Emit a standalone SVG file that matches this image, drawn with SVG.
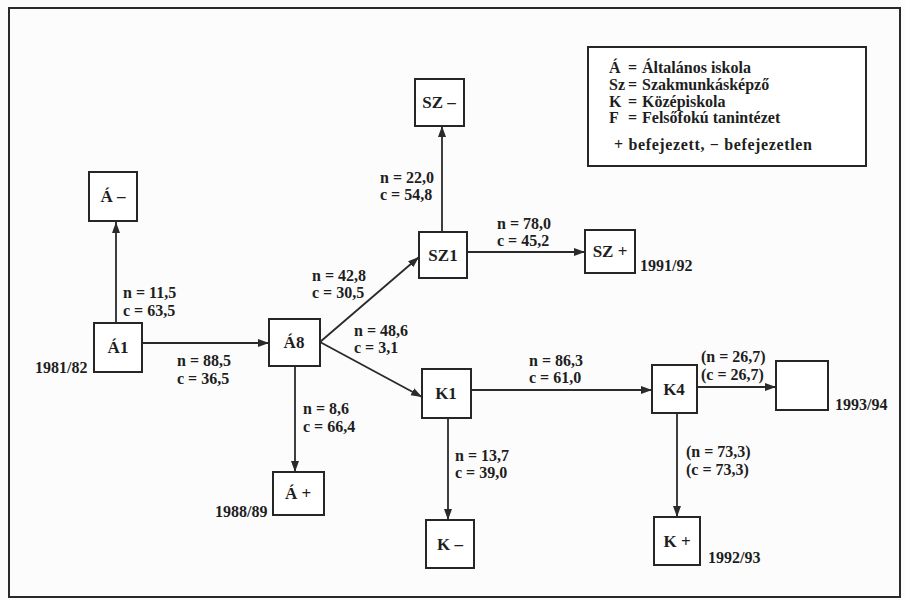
<svg xmlns="http://www.w3.org/2000/svg" width="905" height="600" viewBox="0 0 905 600">
<defs>
<marker id="ah" markerUnits="userSpaceOnUse" markerWidth="12" markerHeight="9" refX="11" refY="4" orient="auto">
<path d="M0,0 L11,4 L0,8 z" fill="#2a2a2a"/>
</marker>
<style>
.bg{fill:#fcfcfc}
.frame{fill:none;stroke:#2a2a2a;stroke-width:2}
.box{fill:#ffffff;stroke:#262626;stroke-width:2}
.edge{fill:none;stroke:#2a2a2a;stroke-width:1.8;marker-end:url(#ah)}
text{font-family:'Liberation Serif','Times New Roman',serif;font-weight:bold;fill:#1e1e1e}
.lbl{font-size:16px}
.nl{font-size:17px;text-anchor:middle}
.yr{font-size:16px}
.lg{font-size:16px}
</style>
</defs>
<rect class="bg" x="0" y="0" width="905" height="600"/>
<rect class="frame" x="9" y="8" width="891" height="589"/>

<g id="legend" font-family="Liberation Serif, serif">
<rect class="box" x="588" y="47" width="278" height="119"/>
<text class="lg" x="609" y="73">Á</text><text class="lg" x="628" y="73">=</text><text class="lg" x="642" y="73">Általános iskola</text>
<text class="lg" x="609" y="90">Sz</text><text class="lg" x="628" y="90">=</text><text class="lg" x="642" y="90">Szakmunkásképző</text>
<text class="lg" x="609" y="107">K</text><text class="lg" x="628" y="107">=</text><text class="lg" x="642" y="107">Középiskola</text>
<text class="lg" x="609" y="123">F</text><text class="lg" x="628" y="123">=</text><text class="lg" x="642" y="123">Felsőfokú tanintézet</text>
<text class="lg" x="614" y="150" textLength="198" lengthAdjust="spacing">+ befejezett, − befejezetlen</text>
</g>

<g id="connectors" font-family="Liberation Serif, serif">
<line class="edge" x1="116" y1="323" x2="116" y2="222"/>
<line class="edge" x1="142" y1="343" x2="269" y2="343"/>
<line class="edge" x1="295" y1="366" x2="295" y2="472"/>
<line class="edge" x1="320" y1="342" x2="419" y2="257"/>
<line class="edge" x1="320" y1="342" x2="422" y2="397"/>
<line class="edge" x1="442" y1="232" x2="442" y2="126"/>
<line class="edge" x1="467" y1="252" x2="585" y2="252"/>
<line class="edge" x1="448" y1="418" x2="448" y2="520"/>
<line class="edge" x1="471" y1="390" x2="652" y2="390"/>
<line class="edge" x1="697" y1="387" x2="776" y2="387"/>
<line class="edge" x1="677" y1="413" x2="677" y2="517"/>
<text class="lbl" x="123" y="298">n = 11,5</text><text class="lbl" x="123" y="316">c = 63,5</text>
<text class="lbl" x="177" y="366">n = 88,5</text><text class="lbl" x="177" y="384">c = 36,5</text>
<text class="lbl" x="303" y="414">n = 8,6</text><text class="lbl" x="303" y="432">c = 66,4</text>
<text class="lbl" x="312" y="281">n = 42,8</text><text class="lbl" x="312" y="298">c = 30,5</text>
<text class="lbl" x="354" y="336">n = 48,6</text><text class="lbl" x="354" y="353">c =  3,1</text>
<text class="lbl" x="380" y="183">n = 22,0</text><text class="lbl" x="380" y="200">c = 54,8</text>
<text class="lbl" x="497" y="229">n = 78,0</text><text class="lbl" x="497" y="246">c = 45,2</text>
<text class="lbl" x="455" y="461">n = 13,7</text><text class="lbl" x="455" y="478">c = 39,0</text>
<text class="lbl" x="529" y="366">n = 86,3</text><text class="lbl" x="529" y="383">c = 61,0</text>
<text class="lbl" x="701" y="362">(n = 26,7)</text><text class="lbl" x="701" y="380">(c = 26,7)</text>
<text class="lbl" x="686" y="457">(n = 73,3)</text><text class="lbl" x="686" y="475">(c = 73,3)</text>
</g>

<g id="node-A-minus"><rect class="box" x="89" y="172" width="48" height="49"/><text class="nl" x="113" y="202">Á –</text></g>
<g id="node-A1"><rect class="box" x="94" y="323" width="48" height="49"/><text class="nl" x="118" y="353">Á1</text><text class="yr" x="35" y="373">1981/82</text></g>
<g id="node-A8"><rect class="box" x="269" y="319" width="51" height="47"/><text class="nl" x="294" y="348">Á8</text></g>
<g id="node-A-plus"><rect class="box" x="273" y="472" width="51" height="43"/><text class="nl" x="298" y="499">Á +</text><text class="yr" x="215" y="517">1988/89</text></g>
<g id="node-SZ-minus"><rect class="box" x="415" y="79" width="49" height="47"/><text class="nl" x="439" y="108">SZ –</text></g>
<g id="node-SZ1"><rect class="box" x="419" y="232" width="48" height="46"/><text class="nl" x="443" y="261">SZ1</text></g>
<g id="node-SZ-plus"><rect class="box" x="585" y="230" width="50" height="43"/><text class="nl" x="610" y="257">SZ +</text><text class="yr" x="640" y="271">1991/92</text></g>
<g id="node-K1"><rect class="box" x="422" y="369" width="49" height="49"/><text class="nl" x="446" y="399">K1</text></g>
<g id="node-K-minus"><rect class="box" x="426" y="520" width="48" height="48"/><text class="nl" x="450" y="550">K –</text></g>
<g id="node-K4"><rect class="box" x="652" y="365" width="45" height="48"/><text class="nl" x="674" y="395">K4</text></g>
<g id="node-F"><rect class="box" x="776" y="361" width="52" height="49"/><text class="yr" x="835" y="410">1993/94</text></g>
<g id="node-K-plus"><rect class="box" x="654" y="517" width="46" height="48"/><text class="nl" x="677" y="547">K +</text><text class="yr" x="708" y="563">1992/93</text></g>
</svg>
